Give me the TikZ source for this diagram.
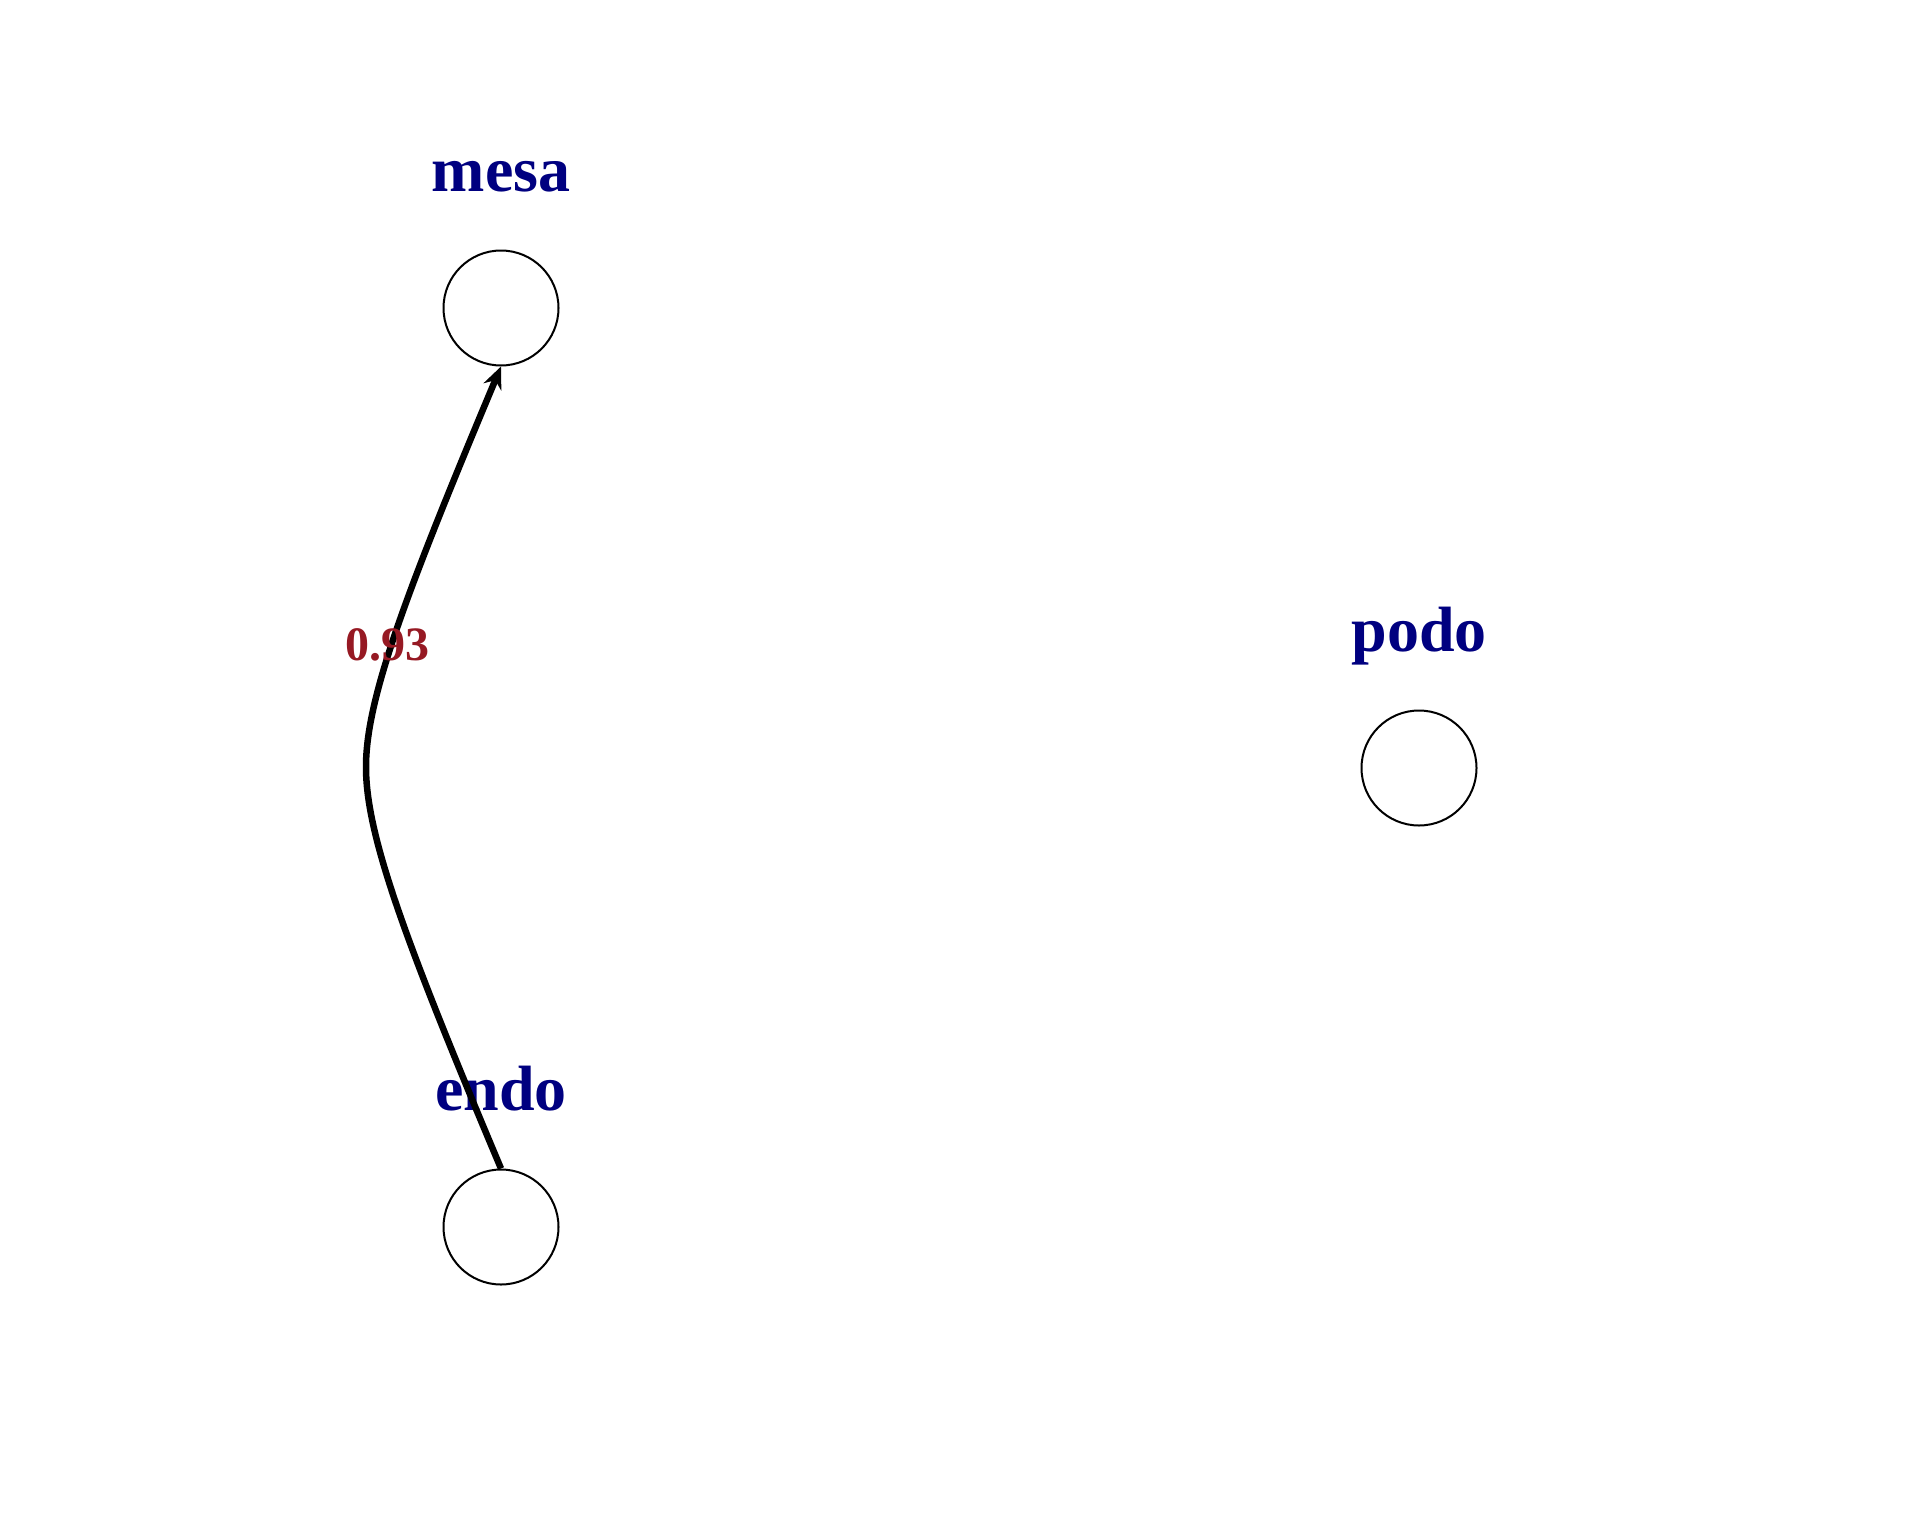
\documentclass[tikz,border=0pt]{standalone}
\usepackage{fontspec}
\setmainfont{Liberation Serif}
\usetikzlibrary{arrows.meta}
\definecolor{lblblue}{RGB}{0,0,128}
\definecolor{edgered}{RGB}{150,25,35}
\begin{document}
\begin{tikzpicture}[x=1pt,y=-1pt,
  state/.style={circle,draw=black,line width=2pt,minimum size=115pt,inner sep=0pt},
  statelabel/.style={anchor=base,text=lblblue,font=\fontsize{64}{70}\selectfont\bfseries},
  edgelabel/.style={anchor=base,text=edgered,font=\fontsize{48}{52}\selectfont\bfseries},
  link/.style={line width=6.5pt,-{Stealth[length=22pt,width=19pt]}}]
\useasboundingbox (0,0) rectangle (1920,1536);
\node[state] (mesa) at (501,308) {};
\node[state] (endo) at (501,1227) {};
\node[state] (podo) at (1419,768) {};
\node[statelabel] (lmesa) at (501,191) {mesa};
\node[statelabel] (lendo) at (501,1110) {endo};
\node[statelabel] (lpodo) at (1419,651) {podo};
\coordinate (bend) at (366,767);
\draw[link] (endo.north) .. controls (403,936) and (366,834) .. (bend)
  .. controls (366,700) and (403,600) .. (mesa.south);
\node[edgelabel] (w) at (387,660) {0.93};
\end{tikzpicture}
\end{document}
